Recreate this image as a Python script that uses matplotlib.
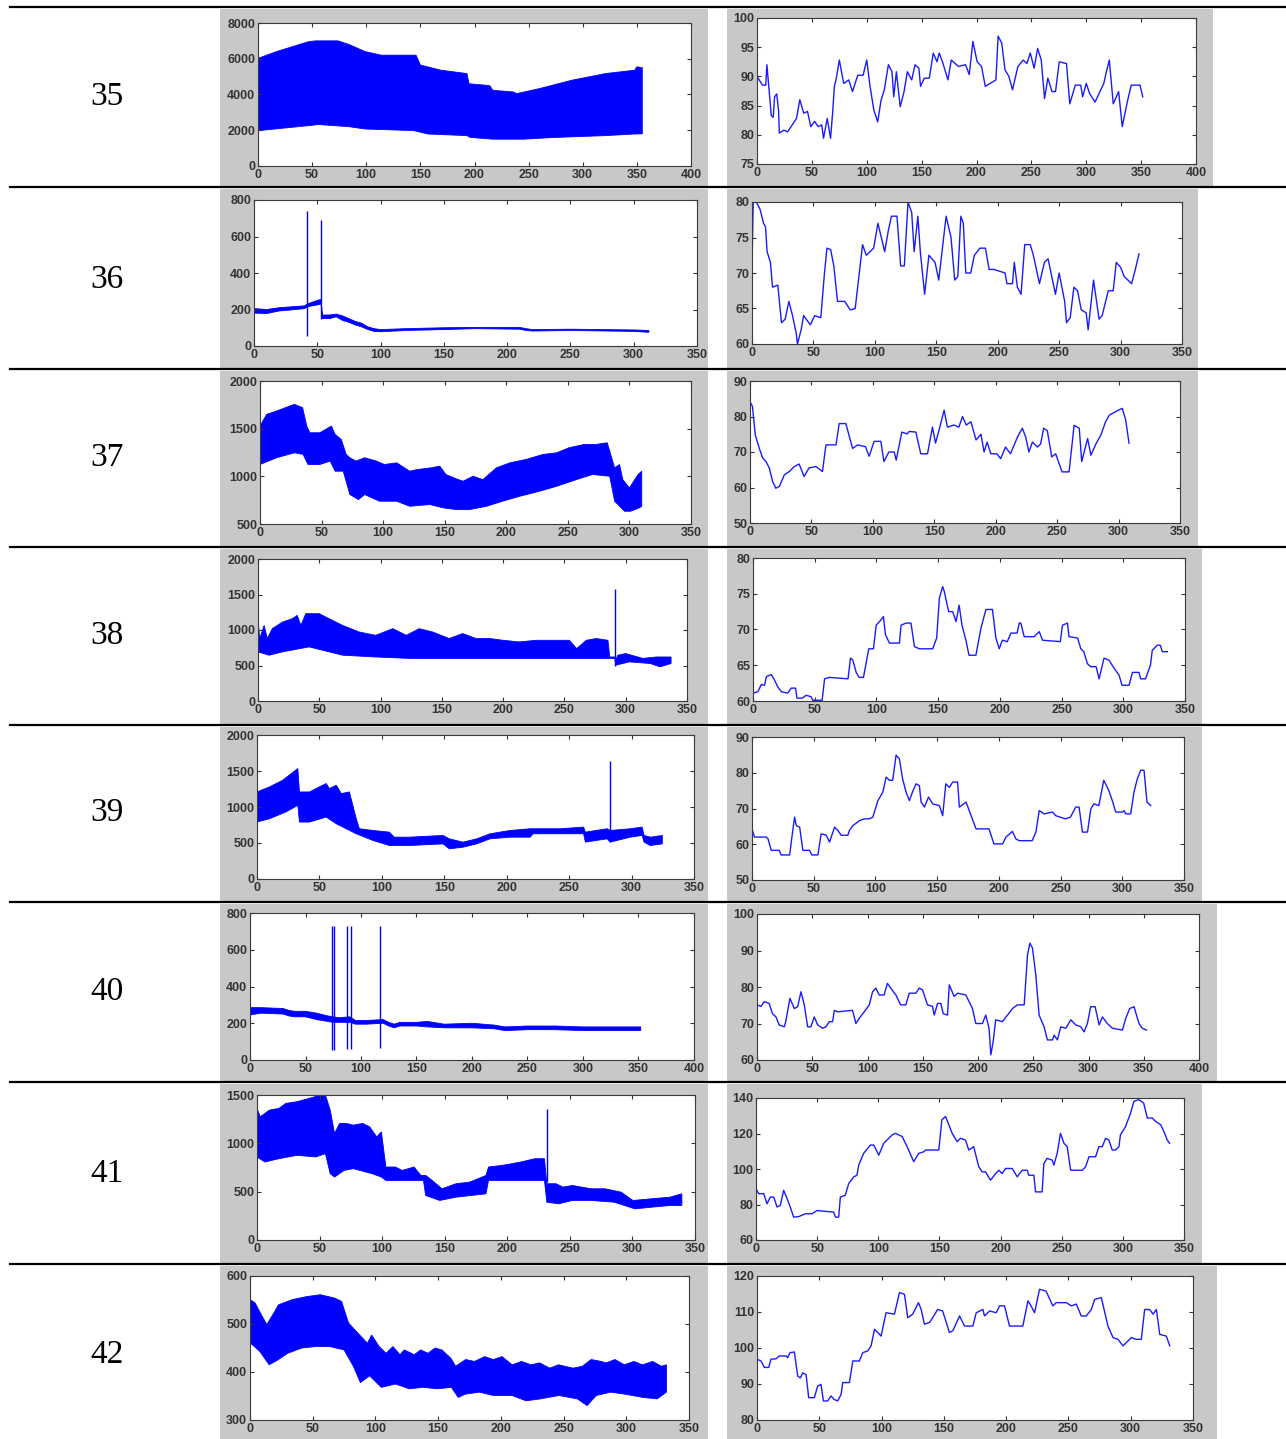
import numpy as np
import matplotlib
matplotlib.use('Agg')
import matplotlib.pyplot as plt
from matplotlib.patches import Rectangle
from matplotlib.lines import Line2D

plt.rcParams['font.family'] = ['Liberation Sans', 'DejaVu Sans']

# ---------------- sample numbers ----------------
row_labels = ['35', '36', '37', '38', '39', '40', '41', '42']

# ---------------- left column: envelope of the raw signal ----------------
# sample 35
r35_hi_x = [0, 17, 32, 47, 53, 74, 84, 99, 114, 146,
            150, 169, 193, 195, 214, 217, 236, 239, 260, 290,
            321, 348, 350, 355]
r35_hi_y = [6020, 6400, 6680, 6960, 7000, 7000, 6800, 6400, 6200, 6200,
            5650, 5360, 5170, 4600, 4500, 4235, 4140, 4050, 4330, 4800,
            5170, 5360, 5550, 5500]
r35_lo_x = [0, 47, 56, 84, 99, 144, 157, 193, 196, 217,
            245, 275, 321, 348, 355]
r35_lo_y = [1975, 2260, 2320, 2200, 2070, 1980, 1790, 1700, 1600, 1500,
            1500, 1600, 1700, 1790, 1800]
r35_spike_x, r35_spike_lo, r35_spike_hi = [], [], []

# sample 36
r36_hi_x = [0, 10, 20, 30, 40, 42, 50, 53, 54, 60,
            65, 70, 75, 80, 85, 90, 95, 100, 120, 150,
            175, 210, 215, 220, 250, 300, 312]
r36_hi_y = [205, 200, 210, 215, 220, 230, 250, 255, 170, 170,
            175, 165, 150, 135, 125, 105, 95, 90, 95, 100,
            102, 102, 95, 90, 92, 88, 85]
r36_lo_x = r36_hi_x
r36_lo_y = [180, 178, 192, 198, 205, 215, 225, 230, 150, 150,
            160, 140, 130, 115, 105, 90, 80, 78, 85, 90,
            95, 92, 85, 82, 85, 80, 75]
r36_spike_x = [42, 53]
r36_spike_lo = [55, 150]
r36_spike_hi = [740, 690]

# sample 37
r37_hi_x = [0, 5.4, 13.5, 24, 28, 34.6, 38, 40.5, 48.6, 58,
            61, 66, 70, 73, 78, 85, 94.6, 101, 111, 121.6,
            128, 139, 146, 151, 161, 165, 173, 181, 192, 203,
            216, 230, 241, 251, 263.5, 273, 282, 288, 292, 294.6,
            300, 307, 310]
r37_hi_y = [1527, 1650, 1685, 1737, 1755, 1720, 1527, 1457, 1457, 1527,
            1440, 1387, 1230, 1195, 1160, 1195, 1160, 1124, 1142, 1054,
            1072, 1089, 1107, 1019, 966, 949, 1001, 966, 1089, 1142,
            1177, 1230, 1247, 1300, 1335, 1335, 1352, 1089, 1124, 966,
            879, 1019, 1054]
r37_lo_x = [0, 13.5, 28, 35, 39, 48.6, 57, 61, 67.6, 73,
            80, 85, 97, 111, 121.6, 138, 149, 159.5, 170, 184,
            197, 211, 227, 241, 257, 270, 284, 288, 296, 301,
            308, 310]
r37_lo_y = [1124, 1195, 1247, 1230, 1124, 1124, 1160, 1054, 1054, 809,
            756, 809, 739, 739, 686, 704, 669, 651, 651, 686,
            739, 791, 844, 896, 966, 1019, 1001, 739, 634, 634,
            669, 686]
r37_spike_x, r37_spike_lo, r37_spike_hi = [], [], []

# sample 38
r38_hi_x = [0, 1.4, 5, 7.6, 11.7, 20, 28, 32, 35, 39,
            50, 58, 69, 82.5, 96, 110, 121, 131.5, 142.5, 156,
            167, 178, 189, 200, 213, 227, 243, 254, 260, 267.8,
            276, 285.5, 287, 291, 292, 293.6, 300, 314, 325, 337]
r38_hi_y = [1159, 880, 1065, 880, 1019, 1112, 1159, 1206, 1065, 1230,
            1230, 1159, 1065, 972, 925, 1019, 925, 1019, 972, 880,
            950, 880, 880, 855, 832, 855, 855, 855, 738, 855,
            880, 855, 620, 620, 580, 645, 668, 600, 620, 620]
r38_lo_x = [0, 9, 20, 41.7, 58, 69, 96, 123.4, 200, 290,
            291, 292, 303, 320, 328, 337]
r38_lo_y = [692, 645, 692, 762, 692, 645, 620, 600, 600, 600,
            600, 505, 551, 528, 481, 528]
r38_spike_x = [291]
r38_spike_lo = [500]
r38_spike_hi = [1575]

# sample 39
r39_hi_x = [0, 10, 20.6, 32.7, 34, 42, 55.4, 58, 63.5, 67.5,
            74, 79.5, 82, 93, 106, 110, 122, 149, 154, 165,
            176, 186.7, 202.7, 218.8, 243, 261.6, 263, 280.4, 283, 299,
            308.5, 310, 315, 324.6]
r39_hi_y = [1209, 1279, 1372, 1535, 1209, 1209, 1326, 1256, 1302, 1186,
            1209, 837, 698, 674, 651, 581, 581, 605, 558, 512,
            558, 628, 674, 698, 698, 721, 651, 698, 674, 698,
            721, 605, 581, 605]
r39_lo_x = [0, 10, 23, 32.7, 34, 42, 55.4, 63.5, 79.5, 93,
            106, 122, 149, 154, 165, 176, 186.7, 202.7, 218.8, 221,
            243, 261.6, 263, 280.4, 283, 299, 308.5, 310, 315, 324.6]
r39_lo_y = [791, 837, 930, 1023, 791, 791, 860, 767, 628, 535,
            465, 465, 488, 419, 442, 488, 558, 581, 581, 628,
            628, 628, 512, 558, 512, 581, 605, 512, 465, 488]
r39_spike_x = [283]
r39_spike_lo = [520]
r39_spike_hi = [1645]

# sample 40
r40_hi_x = [0, 10, 30, 35, 40, 50, 60, 70, 75, 80,
            90, 95, 105, 120, 125, 130, 135, 150, 160, 175,
            200, 220, 230, 250, 275, 300, 325, 352]
r40_hi_y = [285, 285, 280, 270, 265, 265, 255, 240, 235, 230,
            235, 215, 215, 220, 205, 195, 205, 205, 210, 195,
            200, 190, 180, 185, 185, 180, 180, 180]
r40_lo_x = r40_hi_x
r40_lo_y = [245, 255, 250, 240, 235, 235, 220, 210, 205, 205,
            205, 195, 195, 200, 185, 175, 185, 185, 180, 175,
            175, 170, 160, 165, 165, 160, 160, 160]
r40_spike_x = [74.2, 75.7, 87, 90.7, 116.8]
r40_spike_lo = [55, 55, 60, 60, 65]
r40_spike_hi = [730, 730, 730, 730, 730]

# sample 41
r41_hi_x = [0, 2.6, 10, 17.5, 23, 32, 41.7, 51, 54.7, 58.5,
            62, 66, 71.5, 77, 84.5, 90, 95.7, 99.4, 103, 110.6,
            116, 125.5, 131, 134.8, 140, 147.8, 159, 170, 183, 185,
            196, 211, 222, 229.7, 231.6, 239, 244.6, 252, 267, 278,
            291, 300.4, 315, 330, 339.5]
r41_hi_y = [1361, 1275, 1344, 1361, 1413, 1431, 1465, 1500, 1500, 1344,
            1102, 1206, 1206, 1188, 1206, 1171, 1067, 1119, 755, 755,
            720, 755, 668, 668, 616, 530, 582, 599, 668, 755,
            772, 807, 841, 841, 582, 582, 547, 564, 530, 530,
            495, 409, 426, 443, 478]
r41_lo_x = [0, 6.3, 17.5, 32, 47, 54.7, 58.5, 62, 69.6, 77,
            92, 99.4, 103, 133, 134.8, 146, 159, 183, 185, 229.7,
            231.6, 241, 252, 267, 285.5, 302, 315, 330, 339.5]
r41_lo_y = [859, 807, 841, 876, 859, 893, 686, 651, 720, 738,
            686, 651, 616, 616, 461, 409, 443, 478, 616, 616,
            391, 374, 409, 409, 391, 322, 339, 357, 357]
r41_spike_x = [232]
r41_spike_lo = [600]
r41_spike_hi = [1360]

# sample 42
r42_hi_x = [0, 4, 9.7, 13.4, 19, 22.7, 34, 45, 56, 67.5,
            73, 78.6, 86, 93.6, 97, 103, 108.5, 114, 119.6, 123,
            131, 136, 142, 147.5, 153, 160, 164, 172, 179, 187,
            194, 201, 209, 216.5, 224, 231, 239, 246, 257.5, 265,
            272, 280, 284, 291, 298.5, 306, 313, 321, 328, 332]
r42_hi_y = [551, 544, 516, 499, 523, 540, 551, 557, 561, 554,
            547, 502, 481, 460, 477, 453, 439, 453, 436, 446,
            436, 446, 439, 450, 446, 429, 412, 426, 422, 432,
            426, 432, 415, 422, 415, 419, 408, 415, 408, 412,
            426, 422, 419, 426, 415, 422, 415, 422, 412, 415]
r42_lo_x = [0, 7.8, 15.3, 22.7, 30, 41.4, 52.5, 63.7, 75, 82.4,
            88, 95.4, 104.7, 116, 127, 138, 149.5, 160.6, 166, 171.8,
            183, 194, 209, 220, 231.5, 246.4, 261, 268.8, 276, 287.6,
            298.5, 313.5, 324.6, 332]
r42_lo_y = [461, 443, 415, 426, 439, 450, 453, 453, 446, 412,
            378, 392, 368, 375, 365, 368, 365, 368, 347, 354,
            358, 351, 351, 340, 344, 351, 344, 330, 351, 358,
            354, 347, 344, 358]
r42_spike_x, r42_spike_lo, r42_spike_hi = [], [], []

# ---------------- right column: derived rate curve ----------------
r35_x = [0, 5, 8, 9, 11, 13, 14.8, 16, 18, 19.7,
         20.3, 24.6, 27.9, 31, 36, 39, 42.6, 46, 49, 52.5,
         55.7, 59, 60.6, 64, 67, 68.9, 70.5, 72, 75, 79,
         83.6, 87, 91.8, 96.7, 100, 103, 106.5, 110, 113, 116,
         119.7, 123, 124.6, 127, 130.5, 134, 137, 141, 144, 147.5,
         149, 152.5, 157, 160.6, 164, 166, 169, 174, 177, 183.6,
         190, 193.4, 196.7, 200.6, 204.6, 208, 217.7, 219.7, 223, 226,
         229.5, 232.8, 237.7, 242.6, 245.9, 249, 252.5, 255.7, 259, 262,
         265, 268.8, 272, 275.4, 282, 285, 290, 295, 296.7, 300,
         303, 308, 316, 318, 321, 324.6, 329.5, 332.8, 337.7, 341,
         349, 351.5]
r35_y = [90, 88.5, 88.5, 92, 87.7, 83.3, 83, 86.5, 87, 84,
         80.3, 80.8, 80.5, 81.4, 82.8, 86, 83.7, 84, 81.4, 82.3,
         81.4, 81.7, 79.4, 82.8, 79.4, 83.7, 88.3, 89.4, 92.8, 88.8,
         89.4, 87.4, 90.2, 90.2, 92.8, 88.3, 84.2, 82.2, 85.9, 87.7,
         92, 90.8, 86.5, 90.8, 84.8, 87.4, 90.8, 89.4, 92, 91.4,
         88.3, 89.7, 89.7, 94, 92.5, 94, 92.5, 89.4, 92.8, 91.7,
         92, 90.3, 96, 92.5, 91.7, 88.3, 89.4, 96.9, 95.7, 91.1,
         90, 87.7, 91.7, 92.8, 92.2, 94, 91.4, 94.8, 92.8, 86.2,
         89.7, 87.4, 87.4, 92.5, 92.2, 85.3, 88.5, 88.5, 86.5, 88.8,
         87.1, 85.6, 88.8, 90.5, 92.8, 85.3, 87.4, 81.4, 85.9, 88.5,
         88.5, 86.5]

r36_x = [0, 1, 3.5, 6.5, 9.4, 11, 12.3, 15, 16.7, 21,
         24, 27, 30, 33, 36, 37, 40, 42, 47.5, 51,
         56, 59, 61, 64, 66.6, 69.6, 75.5, 80, 84, 87,
         90, 93, 99, 102.5, 108, 111, 113.5, 118, 121, 124,
         127, 130, 132, 135, 137, 140.5, 144, 149, 152, 155,
         158, 162, 165, 167.5, 170, 172, 174, 178, 181, 185.5,
         190, 193, 197, 206, 207.5, 212, 213.5, 216, 219, 222,
         226.5, 229, 234, 238, 241, 244, 247, 250, 254.5, 256,
         259, 262, 265, 268, 272, 273.6, 278, 282.5, 285, 290,
         294, 296.5, 300, 303, 306, 309, 312, 315]
r36_y = [71, 80, 80, 79, 77, 76.5, 73, 71.5, 68, 68.3,
         63, 63.5, 66, 64, 61.5, 60, 62, 64, 62.7, 64,
         63.7, 70, 73.5, 73.3, 71, 66, 66, 64.8, 65, 69.5,
         74, 72.5, 73.5, 77, 73, 76, 78, 78, 71, 71,
         80, 78.5, 73, 78, 73, 67, 72.5, 71.5, 69, 73.5,
         78, 75, 69, 69.5, 78, 77, 70, 70, 72.5, 73.5,
         73.5, 70.5, 70.5, 70, 68.5, 68.5, 71.5, 68, 67, 74,
         74, 72.5, 68.5, 71.5, 72, 69.5, 67, 70, 66, 63,
         63.7, 68, 67.5, 64.8, 64.4, 62, 69, 63.5, 64, 67.5,
         67.5, 71.5, 70.8, 69.5, 69, 68.5, 70.5, 72.7]

r37_x = [0, 2, 4.3, 7.6, 10.3, 13, 15.7, 18.4, 21, 23.9,
         28, 32, 36, 40, 44, 48, 53.7, 59, 61.8, 70,
         72.6, 78, 83.5, 87.6, 94, 97, 101, 106.5, 109, 113,
         117.4, 119, 123.6, 128, 129.6, 135, 139, 144.5, 148.5, 151,
         154.5, 158, 160.7, 166, 170, 173, 176, 179.8, 184, 188,
         190.5, 193, 196, 201, 204, 208, 212, 217.7, 221.7, 224.4,
         227, 229.9, 234, 236.6, 239, 242, 245.6, 248.8, 254, 259.7,
         263.8, 268, 270, 274.8, 277.5, 281.6, 285.6, 289.5, 292.5, 300,
         303, 305.8, 308.5]
r37_y = [84.2, 82.8, 74.8, 71, 68.3, 67.3, 65.5, 61.7, 59.8, 60.3,
         63.6, 64.5, 65.9, 66.6, 63.1, 65.5, 65.9, 64.5, 72, 72,
         78, 78, 71, 72, 71.5, 68.8, 73, 73, 67.3, 70,
         70, 67.7, 75.6, 75.1, 75.8, 75.6, 69.5, 69.5, 77, 72.5,
         77, 81.8, 77, 77.6, 77, 80, 77.6, 78.5, 73.4, 75,
         70, 72.8, 69.5, 69.5, 68.1, 71.4, 69.5, 74.2, 76.7, 74.2,
         70, 72.8, 71.4, 72.3, 76.7, 76, 68.6, 69.5, 64.4, 64.4,
         77.5, 76.7, 67.3, 73.8, 69.1, 72.3, 74.8, 78.6, 80.4, 81.8,
         82.3, 79, 72.5]

r38_x = [0, 4, 6.7, 9.4, 10.8, 14.8, 17.5, 20, 23, 28,
         31, 34.5, 35.6, 40, 43, 47, 48.5, 56, 58, 62,
         77, 79, 80.9, 83.6, 86, 89.5, 93.8, 97.6, 99.8, 102.5,
         105.7, 107.3, 110.5, 118.6, 120, 124, 128, 130.8, 134.8, 145.6,
         148.8, 151, 153.7, 155, 158.5, 161.8, 164.5, 167, 169.3, 172.5,
         175, 180.6, 184.7, 188.7, 194, 196.8, 199.5, 202, 206, 209,
         214, 215.7, 217, 219.7, 227.8, 231.9, 234.6, 249, 250.7, 254.8,
         256, 263, 265.6, 268, 271, 273.7, 278, 280.4, 284.4, 288.5,
         292.5, 296.6, 299, 304.7, 307.4, 312.8, 314, 318, 322, 323.5,
         327.6, 330, 331.6, 335.7]
r38_y = [61.1, 61.3, 62.3, 62.2, 63.4, 63.7, 62.9, 62, 61.3, 61.1,
         61.8, 61.8, 60.4, 60.4, 60.8, 60.6, 60.1, 60.1, 63.1, 63.3,
         63.1, 66, 65.7, 64, 63.3, 63.3, 67.3, 67.3, 70.6, 71.1,
         71.8, 69.3, 68.1, 68.1, 70.6, 70.9, 70.9, 67.6, 67.3, 67.3,
         68.8, 74.4, 76, 75.3, 72.5, 72.5, 71.1, 73.4, 70.6, 68.5,
         66.4, 66.4, 70.2, 72.8, 72.8, 68.8, 67.3, 68.5, 68.3, 69.5,
         69.5, 70.9, 70.9, 69, 69, 69.7, 68.5, 68.3, 70.6, 70.9,
         69, 68.8, 67.3, 66.9, 65.2, 64.8, 64.8, 63.1, 66, 65.7,
         64.6, 63.6, 62.2, 62.2, 64, 64, 63.1, 63.1, 65, 67.1,
         67.8, 67.8, 66.9, 66.9]

r39_x = [0, 2, 11.6, 13, 15.6, 22, 23.6, 30.5, 31.8, 34.5,
         35.9, 38.6, 41.2, 46.6, 48.5, 53.4, 56, 60, 62.8, 66.9,
         69.5, 72.3, 77.6, 79, 81.7, 87, 91, 95, 97.9, 102,
         106, 108.7, 111.3, 114, 116.7, 119.4, 122, 124.8, 127.5, 130,
         132.9, 135.6, 137, 139.7, 143, 146.4, 151.8, 154.5, 157, 159.9,
         162.6, 166.6, 168, 173.4, 176, 181.5, 192, 196, 203, 205.7,
         211, 213.8, 216.5, 227, 230, 232.7, 236.7, 243.5, 246, 254,
         258, 262.3, 265, 267.7, 271.8, 274.5, 277, 281, 285, 289,
         291.9, 294.7, 300, 301.4, 302.8, 306.8, 309.5, 312.2, 315, 317.6,
         320, 323]
r39_y = [64.3, 62, 62, 61.5, 58.3, 58.3, 57, 57, 60.6, 67.6,
         65.2, 64.8, 58.3, 58.3, 57, 57, 62.9, 62.6, 60.6, 64.8,
         63.9, 62.5, 62.5, 63.9, 65.2, 66.6, 67.1, 67.1, 67.6, 72.2,
         74.6, 78.8, 77.9, 77.9, 84.9, 83.9, 78.3, 74.6, 72.2, 74.6,
         76.9, 76.4, 71.8, 70.4, 73.2, 71.3, 70.8, 68, 76.9, 75.9,
         77.4, 77.4, 70.4, 71.8, 69.4, 64.3, 64.3, 60.1, 60.1, 62,
         63.6, 61.5, 61, 61, 63.4, 69.4, 68.5, 69, 68, 67.1,
         67.6, 70.4, 70.4, 63.4, 63.4, 69.9, 71.3, 70.8, 77.9, 75.1,
         72.2, 69, 69, 69.4, 68.5, 68.5, 74.6, 78.3, 80.7, 80.7,
         71.8, 70.8]

r40_x = [0, 3.6, 6.6, 11, 14, 17.2, 20, 24.7, 26, 29.8,
         33.8, 36.8, 39.8, 42.8, 45.8, 48.8, 51.8, 54.9, 59.4, 62.4,
         65.4, 68.4, 70, 72.9, 86.5, 89.5, 92.5, 97, 101.6, 104.6,
         107.6, 110.6, 115, 118, 121, 125.7, 130, 134.7, 137.8, 143.8,
         146.8, 149.8, 154.3, 158.8, 160.4, 163.4, 166.4, 168.5, 172.4, 174,
         178.4, 181.5, 189, 195, 198, 204, 207, 210, 211.6, 213.7,
         216, 222, 226.7, 231.2, 235.7, 241.8, 244.8, 246.9, 249.3, 252.3,
         255.3, 259.8, 262.8, 267.4, 268.9, 271.9, 274.9, 279.4, 284, 288.5,
         293, 296, 299, 302, 306, 309.6, 312.6, 317, 321.6, 330.7,
         333.7, 337.3, 341.2, 345.7, 348.7, 352.4]
r40_y = [75.1, 74.7, 76, 75.5, 72.7, 71.8, 69.6, 69.1, 70.5, 76.9,
         74.1, 74.6, 78.7, 75.1, 69.1, 69.1, 71.8, 69.6, 68.7, 69.1,
         70.5, 70.5, 73.6, 73.2, 73.6, 70, 71.4, 73.2, 75.1, 78.7,
         79.7, 77.8, 77.8, 81, 79.7, 77.8, 75.1, 75.1, 78.3, 78.3,
         79.7, 79.2, 75.1, 74.7, 72.3, 75.5, 75.5, 72.7, 72.3, 80.6,
         77.4, 78.3, 77.8, 74.1, 70, 70, 72.3, 68.7, 61.4, 65,
         71, 70.5, 72.3, 74.1, 75.1, 75.1, 88.8, 92, 90.7, 83.3,
         72.3, 69.1, 65.5, 65.5, 66.8, 65.5, 69.1, 68.7, 71, 69.6,
         69.1, 67.7, 70, 74.6, 74.6, 69.6, 71.8, 70, 68.7, 68.2,
         71.4, 74.1, 74.6, 70, 68.7, 68.2]

r41_x = [0, 2.2, 6.3, 9, 11.7, 14.5, 17.2, 19.9, 22.6, 25.4,
         28, 30.8, 35, 40.4, 45.8, 49.9, 63.5, 65, 67.6, 69,
         73, 75.8, 80, 82.6, 84, 88, 93.6, 96.3, 100.4, 104.5,
         111.3, 114, 119.5, 123.6, 129, 133, 137.2, 138.6, 149.5, 152,
         155, 157.7, 160.4, 164.5, 167.2, 171.3, 174, 178, 182.2, 185,
         187.7, 191.8, 195.9, 198.6, 201.3, 204, 209.5, 213.6, 217.7, 221.8,
         223, 227.2, 228.6, 234, 235.4, 238, 242.2, 243.6, 246.3, 249,
         251.8, 254.5, 257.3, 266.8, 269.5, 272.3, 277.7, 280.4, 283.2, 285.9,
         288.6, 291.3, 294, 296.8, 298, 302.2, 306.3, 309, 313, 317,
         320, 324, 326.8, 331, 333.6, 336.3, 338.2]
r41_y = [88.9, 86.1, 86.1, 80.4, 84.2, 84.2, 78.6, 79.5, 88, 83.3,
         78.6, 72.9, 73.2, 74.8, 74.8, 76.6, 75.7, 72.9, 72.9, 84.2,
         85.2, 91.8, 95.6, 96.5, 102.2, 108.8, 113.5, 113.5, 107.8, 114.5,
         119.2, 120.1, 118.3, 112.6, 104.1, 108.8, 109.7, 110.7, 110.7, 127.7,
         129.6, 124.9, 120.1, 115.4, 117.3, 116.3, 110.7, 112.6, 101.2, 98.4,
         98.4, 93.7, 97.4, 99.3, 97.4, 100.3, 100.3, 95.6, 99.3, 99.3,
         96.5, 96.5, 87.1, 87.1, 103.1, 106, 105, 102.2, 108.8, 120.1,
         114.5, 112.6, 99.3, 99.3, 101.2, 106.9, 106.9, 112.6, 112.6, 117.3,
         116.3, 110.7, 110.7, 112.6, 119.2, 123.9, 131.5, 138.1, 139.1, 137.2,
         128.7, 128.7, 126.8, 124.9, 121.1, 116.3, 114.5]

r42_x = [0, 3.2, 5.9, 9.4, 11.2, 15.3, 18, 23.3, 24.6, 26.5,
         30, 32.7, 34.8, 36.7, 39.4, 41.5, 46, 48.7, 51.4, 53.3,
         56.8, 59.4, 62, 64.8, 67.5, 68.8, 74.2, 76.9, 82.2, 84.9,
         88.9, 91.6, 94.3, 97, 99.6, 103.6, 110.3, 114.4, 118.4, 121,
         125, 129.6, 131.8, 134.4, 138.5, 141, 145, 149, 154.5, 157.2,
         162.6, 166.6, 173.3, 176, 181.3, 182.6, 186.7, 192, 194.7, 198.7,
         202.7, 213.4, 217.5, 220, 222.8, 226.8, 232, 237.5, 240.2, 248.3,
         252.3, 256.3, 260.3, 264.3, 268.4, 271, 276.4, 281.7, 285.8, 289.8,
         293.8, 296.5, 300.5, 304.5, 308.5, 311.2, 315.2, 318, 320.6, 323.3,
         328.6, 331.3]
r42_y = [96.9, 96.4, 94.6, 94.6, 96.9, 97, 97.8, 97.8, 97.3, 98.7,
         98.9, 92.2, 91.7, 93.1, 92.6, 86.2, 86.2, 89.4, 89.9, 85.3,
         85.3, 86.7, 85.7, 85.3, 87.1, 90.4, 90.4, 96.4, 96.4, 98.7,
         99.2, 100.6, 105.2, 104.3, 103.3, 109.8, 109.4, 115.4, 114.9, 108.4,
         109.4, 112.6, 110.7, 106.6, 107.1, 108.4, 110.7, 110.3, 104.3, 104.8,
         108.9, 106.1, 106.1, 109.8, 110.7, 108.9, 110.3, 109.8, 111.7, 111.7,
         106.1, 106.1, 113.1, 111.7, 109.8, 116.3, 115.8, 111.7, 112.6, 112.6,
         111.7, 112.2, 108.9, 108.9, 110.7, 113.5, 114, 106.1, 102.9, 102.4,
         100.6, 101.5, 102.9, 102.4, 102.4, 110.7, 110.7, 109.4, 110.7, 103.8,
         103.3, 100.6]

# axis ranges (x max, y min, y max, y tick step)
left_xmax = [400, 350, 350, 350, 350, 400, 350, 350]
left_ylim = [(0, 8000), (0, 800), (500, 2000), (0, 2000), (0, 2000), (0, 800), (0, 1500), (300, 600)]
left_ystep = [2000, 200, 500, 500, 500, 200, 500, 100]
right_xmax = [400, 350, 350, 350, 350, 400, 350, 350]
right_ylim = [(75, 100), (60, 80), (50, 90), (60, 80), (50, 90), (60, 100), (60, 140), (80, 120)]
right_ystep = [5, 5, 10, 5, 10, 10, 20, 10]

bands = [
    (r35_hi_x, r35_hi_y, r35_lo_x, r35_lo_y, r35_spike_x, r35_spike_lo, r35_spike_hi),
    (r36_hi_x, r36_hi_y, r36_lo_x, r36_lo_y, r36_spike_x, r36_spike_lo, r36_spike_hi),
    (r37_hi_x, r37_hi_y, r37_lo_x, r37_lo_y, r37_spike_x, r37_spike_lo, r37_spike_hi),
    (r38_hi_x, r38_hi_y, r38_lo_x, r38_lo_y, r38_spike_x, r38_spike_lo, r38_spike_hi),
    (r39_hi_x, r39_hi_y, r39_lo_x, r39_lo_y, r39_spike_x, r39_spike_lo, r39_spike_hi),
    (r40_hi_x, r40_hi_y, r40_lo_x, r40_lo_y, r40_spike_x, r40_spike_lo, r40_spike_hi),
    (r41_hi_x, r41_hi_y, r41_lo_x, r41_lo_y, r41_spike_x, r41_spike_lo, r41_spike_hi),
    (r42_hi_x, r42_hi_y, r42_lo_x, r42_lo_y, r42_spike_x, r42_spike_lo, r42_spike_hi),
]
curves = [(r35_x, r35_y), (r36_x, r36_y), (r37_x, r37_y), (r38_x, r38_y),
          (r39_x, r39_y), (r40_x, r40_y), (r41_x, r41_y), (r42_x, r42_y)]

# ---------------- page layout in pixels ----------------
W, H = 1286, 1439
left_box = [(258, 23, 691, 166), (254, 200, 697, 346), (260, 381, 691, 524), (258, 559, 687, 701),
            (257, 735, 694, 879), (250, 913, 694, 1060), (257, 1095, 695, 1240), (250, 1276, 689, 1420)]
right_box = [(757, 18, 1196, 164), (752, 202, 1182, 344), (750, 381, 1180, 523), (753, 558, 1185, 701),
             (752, 737, 1184, 880), (757, 914, 1199, 1060), (756, 1098, 1184, 1240), (757, 1276, 1193, 1420)]
left_panel = [(220, 9, 708, 187), (220, 189, 708, 369), (220, 371, 708, 547), (220, 549, 708, 725),
              (220, 727, 708, 902), (220, 904, 708, 1082), (220, 1084, 708, 1264), (220, 1266, 708, 1439)]
right_panel = [(727, 9, 1213, 187), (727, 189, 1198, 369), (727, 371, 1198, 547), (727, 549, 1202, 725),
               (727, 727, 1202, 902), (727, 904, 1217, 1082), (727, 1084, 1202, 1264), (727, 1266, 1217, 1439)]
rule_y = [7, 187, 369, 547, 725, 902, 1082, 1264]
label_y = [97, 280, 458, 636, 813, 992, 1174, 1355]

BLUE = '#0000ff'

fig = plt.figure(figsize=(W / 100, H / 100), dpi=100)
fig.patch.set_facecolor('white')


def grey_panel(l, t, r, b):
    # zorder below the axes so the plots sit on top of the grey frame
    fig.patches.append(Rectangle((l / W, 1 - b / H), (r - l) / W, (b - t) / H,
                                 transform=fig.transFigure, facecolor='#c8c8c8',
                                 edgecolor='none', zorder=-1))


def make_axes(box, xmax, ylim, ystep):
    l, t, r, b = box
    ax = fig.add_axes([l / W, 1 - b / H, (r - l) / W, (b - t) / H])
    ax.set_xlim(0, xmax)
    ax.set_ylim(*ylim)
    ax.set_xticks(np.arange(0, xmax + 1, 50))
    ax.set_yticks(np.arange(ylim[0], ylim[1] + 1, ystep))
    ax.tick_params(direction='in', top=True, right=True, length=3, width=0.8,
                   labelsize=9, colors='#333333', pad=2)
    for lbl in ax.get_xticklabels() + ax.get_yticklabels():
        lbl.set_fontweight('bold')
    for s in ax.spines.values():
        s.set_color('#3a3a3a')
        s.set_linewidth(0.8)
    return ax


for i in range(8):
    grey_panel(*left_panel[i])
    grey_panel(*right_panel[i])

    # raw signal: the fast oscillation fills the band between its envelopes
    hx, hy, lx, ly, sx, slo, shi = bands[i]
    ax = make_axes(left_box[i], left_xmax[i], left_ylim[i], left_ystep[i])
    ax.fill(np.r_[hx, lx[::-1]], np.r_[hy, ly[::-1]], facecolor=BLUE,
            edgecolor=BLUE, linewidth=0.6)
    if sx:
        ax.vlines(sx, slo, shi, color=BLUE, linewidth=1.0)

    # rate curve
    cx, cy = curves[i]
    ax = make_axes(right_box[i], right_xmax[i], right_ylim[i], right_ystep[i])
    ax.plot(cx, cy, color='#1a1aff', linewidth=1.0)

    fig.text(107 / W, 1 - label_y[i] / H, row_labels[i], ha='center', va='center',
             fontsize=24, family='Liberation Serif', color='black')

# table rules between the rows
for y in rule_y:
    fig.add_artist(Line2D([10 / W, 1], [1 - y / H, 1 - y / H], transform=fig.transFigure,
                          color='black', linewidth=1.6, zorder=5))

fig.savefig('out.png', dpi=100)
